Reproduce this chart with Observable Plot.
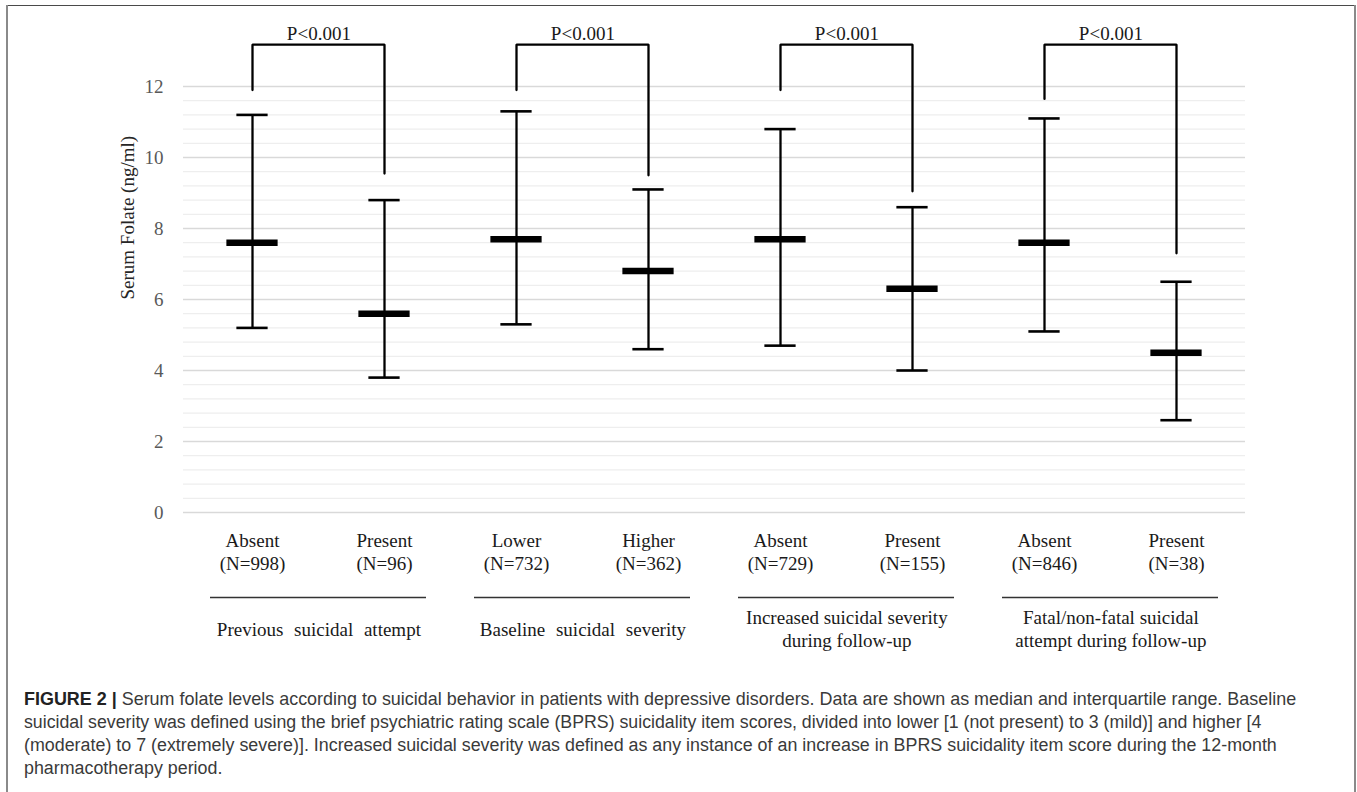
<!DOCTYPE html>
<html>
<head>
<meta charset="utf-8">
<script src="https://cdn.jsdelivr.net/npm/d3@7"></script>
<script src="https://cdn.jsdelivr.net/npm/@observablehq/plot@0.6"></script>
<style>
  html, body { margin: 0; padding: 0; background: #fff; }
  #wrap { position: relative; width: 1357px; height: 792px; overflow: hidden; }
  #chart { position: absolute; left: 0; top: 0; }
  #frameTop { position: absolute; left: 7px; top: 5px; width: 1349px; height: 0; border-top: 1.6px solid #4a4a4a; }
  #frameLeft { position: absolute; left: 6px; top: 5px; width: 0; height: 800px; border-left: 2px solid #8a8a8a; }
  #frameRight { position: absolute; left: 1354px; top: 5px; width: 0; height: 800px; border-left: 2px solid #8a8a8a; }
  #caption { position: absolute; left: 0; top: 670px; }
</style>
</head>
<body>
<div id="wrap">
  <div id="chart"></div>
  <svg id="caption" width="1357" height="120"></svg>
  <div id="frameTop"></div>
  <div id="frameLeft"></div>
  <div id="frameRight"></div>
</div>
<script>
// ---- data ----
const categories = ["Absent", "Present", "Lower", "Higher", "Absent", "Present", "Absent", "Present"];
const sampleSizes = ["(N=998)", "(N=96)", "(N=732)", "(N=362)", "(N=729)", "(N=155)", "(N=846)", "(N=38)"];
const medians = [7.6, 5.6, 7.7, 6.8, 7.7, 6.3, 7.6, 4.5];
const q1 = [5.2, 3.8, 5.3, 4.6, 4.7, 4.0, 5.1, 2.6];
const q3 = [11.2, 8.8, 11.3, 9.1, 10.8, 8.6, 11.1, 6.5];
const groupLabels = ["Previous suicidal attempt", "Baseline suicidal severity",
  "Increased suicidal severity\nduring follow-up", "Fatal/non-fatal suicidal\nattempt during follow-up"];
const pLabels = ["P<0.001", "P<0.001", "P<0.001", "P<0.001"];
const bracketLeftEnd = [11.9, 11.9, 11.9, 11.65];
const bracketRightEnd = [9.55, 9.5, 9.05, 7.3];
const bracketTop = 13.18;
const yTicks = [0, 2, 4, 6, 8, 10, 12];
const yMinorStep = 0.4;
const yTitle = "Serum Folate (ng/ml)";
const captionBold = "FIGURE 2 | ";
const captionLines = [
  "Serum folate levels according to suicidal behavior in patients with depressive disorders. Data are shown as median and interquartile range. Baseline",
  "suicidal severity was defined using the brief psychiatric rating scale (BPRS) suicidality item scores, divided into lower [1 (not present) to 3 (mild)] and higher [4",
  "(moderate) to 7 (extremely severe)]. Increased suicidal severity was defined as any instance of an increase in BPRS suicidality item score during the 12-month",
  "pharmacotherapy period."
];

// ---- derived tables ----
const ids = categories.map((c, i) => i);
const rows = categories.map((c, i) => ({id: i, cat: c, n: sampleSizes[i], med: medians[i], lo: q1[i], hi: q3[i]}));
const groups = groupLabels.map((g, k) => ({k, label: g, first: 2 * k, second: 2 * k + 1, p: pLabels[k]}));
const bracketPts = groups.flatMap(g => [
  {k: g.k, id: g.first, v: bracketLeftEnd[g.k]},
  {k: g.k, id: g.first, v: bracketTop},
  {k: g.k, id: g.second, v: bracketTop},
  {k: g.k, id: g.second, v: bracketRightEnd[g.k]}
]);
const minorTicks = d3.range(0, 12 + 1e-9, yMinorStep).map(v => +v.toFixed(2)).filter(v => !yTicks.some(t => Math.abs(t - v) < 1e-6));

const serif = "'Liberation Serif', 'Times New Roman', serif";
const half = (1357 - 183 - 112) / 8 / 2;

const chart = Plot.plot({
  width: 1357,
  height: 665,
  marginLeft: 183,
  marginRight: 112,
  marginTop: 86,
  marginBottom: 153,
  x: {type: "band", domain: ids, padding: 0, axis: null},
  y: {domain: [0, 12], axis: null},
  style: {fontFamily: serif, fontSize: "19px", background: "transparent", overflow: "visible"},
  marks: [
    Plot.ruleY(minorTicks, {stroke: "#eeeeee", strokeWidth: 1.2}),
    Plot.ruleY(yTicks, {stroke: "#d9d9d9", strokeWidth: 1.3}),
    Plot.text(yTicks, {y: d => d, text: d => String(d), frameAnchor: "left", dx: -20, textAnchor: "end", fill: "#595959", fontSize: 19, fontFamily: serif}),
    Plot.text([yTitle], {frameAnchor: "left", dx: -56, rotate: -90, fill: "#262626", fontSize: 19, fontFamily: serif}),
    // whiskers
    Plot.ruleX(rows, {x: "id", y1: "lo", y2: "hi", stroke: "#000", strokeWidth: 2.3}),
    Plot.tickY(rows, {x: "id", y: "lo", inset: half - 16, stroke: "#000", strokeWidth: 2.6}),
    Plot.tickY(rows, {x: "id", y: "hi", inset: half - 16, stroke: "#000", strokeWidth: 2.6}),
    Plot.tickY(rows, {x: "id", y: "med", inset: half - 26, stroke: "#000", strokeWidth: 6.5}),
    // brackets
    Plot.line(bracketPts, {x: "id", y: "v", z: "k", stroke: "#000", strokeWidth: 2.3, strokeLinejoin: "miter"}),
    Plot.text(groups, {x: "first", y: () => bracketTop, text: "p", dx: half, dy: -11, fill: "#1a1a1a", fontSize: 19, fontFamily: serif}),
    // category labels
    Plot.text(rows, {x: "id", text: d => d.cat + "\n" + d.n, frameAnchor: "bottom", lineAnchor: "top", dy: 19, lineHeight: 1.18, fill: "#1a1a1a", fontSize: 19, fontFamily: serif}),
    // group separators
    Plot.ruleY(groups, {x1: "first", x2: "second", y: () => 0, dy: 85, insetLeft: 24, insetRight: 24, stroke: "#333", strokeWidth: 1.4}),
    // group labels
    Plot.text(groups, {x: "first", text: "label", frameAnchor: "bottom", dx: half, dy: 116, lineAnchor: "middle", lineHeight: 1.2, fill: "#1a1a1a", fontSize: 19, fontFamily: serif, className: "grouplab"})
  ]
});
document.getElementById("chart").appendChild(chart);
// single-line group labels use wider word spacing in the reference
d3.select(chart).selectAll(".grouplab text").filter(function () { return this.querySelectorAll("tspan").length === 0; })
  .style("word-spacing", "6px");

// caption
const cap = d3.select("#caption");
const capWidths = [1273, 1238, 1253, null];
const capBase = 35, capStep = 23;
const texts = captionLines.map((line, i) => {
  const t = cap.append("text")
    .attr("font-family", "'Liberation Sans', Arial, sans-serif")
    .attr("font-size", 19)
    .attr("fill", "#3a3a3a");
  if (i === 0) t.append("tspan").attr("font-weight", "bold").attr("fill", "#222").text(captionBold);
  t.append("tspan").text(line);
  return t;
});
const ratios = [];
texts.forEach((t, i) => {
  const w = t.node().getComputedTextLength();
  const r = capWidths[i] ? capWidths[i] / w : d3.mean(ratios);
  if (capWidths[i]) ratios.push(r);
  t.attr("transform", `translate(24,${capBase + i * capStep}) scale(${r},1)`);
});
</script>
</body>
</html>
